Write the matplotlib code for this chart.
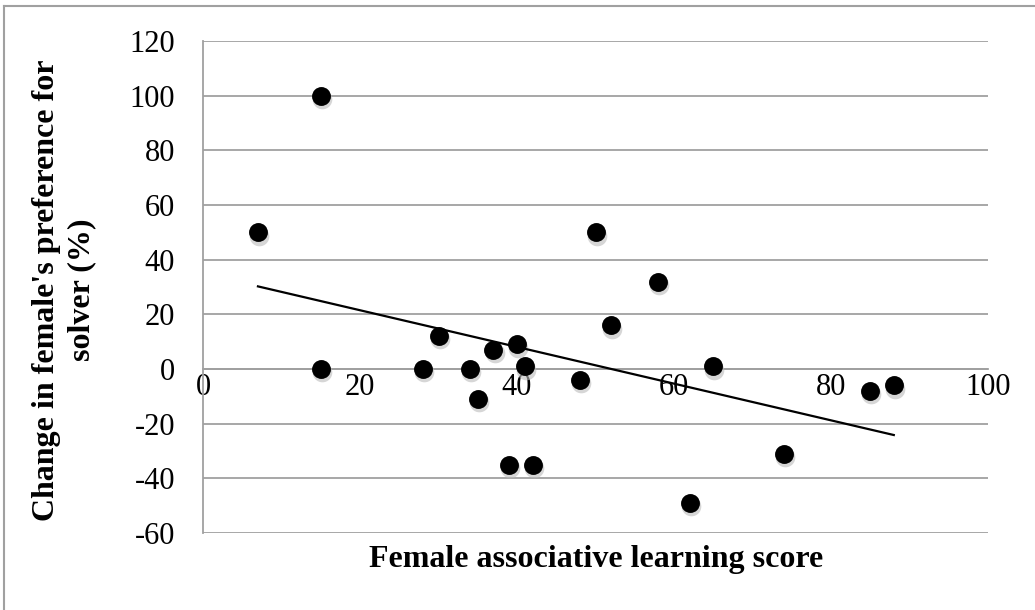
import matplotlib
matplotlib.use('Agg')
import matplotlib.pyplot as plt
import numpy as np
from matplotlib.lines import Line2D

# learning score vs change in preference
learning_score = [7, 15, 15, 28, 30, 34, 35, 37, 39, 40, 41, 42, 48, 50, 52, 58, 62, 65, 74, 85, 88]
pref_change = [50, 100, 0, 0, 12, 0, -11, 7, -35, 9, 1, -35, -4, 50, 16, 32, -49, 1, -31, -8, -6]

x_ticks = [0, 20, 40, 60, 80, 100]
y_ticks = [-60, -40, -20, 0, 20, 40, 60, 80, 100, 120]

GRID = '#a0a0a0'
SERIF = ['Liberation Serif', 'DejaVu Serif']

plt.rcParams['font.family'] = SERIF
plt.rcParams['axes.unicode_minus'] = False

fig = plt.figure(figsize=(10.35, 6.1), dpi=100)
ax = fig.add_axes([203 / 1035, 1 - 533 / 610, (988 - 203) / 1035, (533 - 41) / 610])

xs = np.array(learning_score, dtype=float)
ys = np.array(pref_change, dtype=float)

# soft drop shadow, then the black dots
ax.scatter(xs + 0.15, ys - 1.2, s=200, color='#bbbbbb', alpha=0.6, lw=0, zorder=3)
ax.scatter(xs, ys, s=185, color='black', lw=0, zorder=4)

# linear trend line over the data range
k, b = np.polyfit(xs, ys, 1)
tx = np.array([xs.min(), xs.max()])
ax.plot(tx, k * tx + b, color='black', lw=1.6, zorder=5)

ax.set_xlim(0, 100)
ax.set_ylim(-60, 120)
ax.set_xticks(x_ticks)
ax.set_yticks(y_ticks)
ax.tick_params(axis='both', length=0, labelsize=22)
ax.tick_params(axis='y', pad=20)
ax.tick_params(axis='x', pad=3)
ax.yaxis.grid(True, color=GRID, lw=1.3)
ax.set_axisbelow(True)

ax.spines['top'].set_visible(False)
ax.spines['right'].set_visible(False)
ax.spines['left'].set_color(GRID)
ax.spines['left'].set_linewidth(1.3)
ax.spines['bottom'].set_position(('data', 0))
ax.spines['bottom'].set_color(GRID)
ax.spines['bottom'].set_linewidth(1.3)

for lab in ax.get_xticklabels():
    lab.set_verticalalignment('top')

fig.text(596 / 1035, 1 - 560 / 610, 'Female associative learning score',
         ha='center', va='center', fontsize=23, fontweight='bold')
fig.text(64 / 1035, 1 - 290 / 610, "Change in female's preference for\nsolver (%)",
         ha='center', va='center', rotation=90, fontsize=23, fontweight='bold',
         linespacing=1.3)

# outer chart border (only top and left edges show in the crop)
fig.add_artist(Line2D([4 / 1035, 4 / 1035], [0, 1 - 6 / 610], transform=fig.transFigure,
                      color=GRID, lw=1.5))
fig.add_artist(Line2D([4 / 1035, 1], [1 - 6 / 610, 1 - 6 / 610], transform=fig.transFigure,
                      color=GRID, lw=1.5))

fig.savefig('out.png', dpi=100)
